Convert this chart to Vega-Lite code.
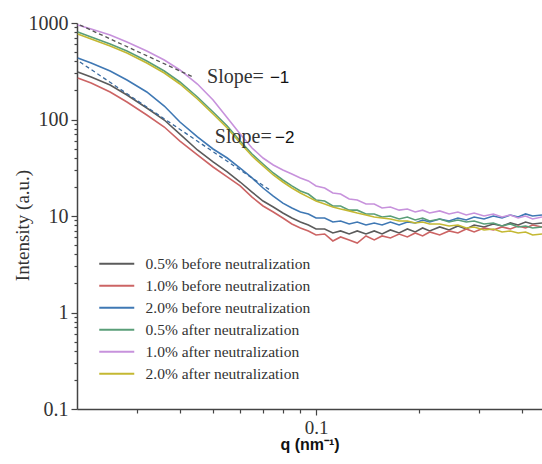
{
  "$schema": "https://vega.github.io/schema/vega-lite/v6.json",
  "width": 465,
  "height": 386,
  "autosize": {"type": "none"},
  "padding": {"left": 77, "top": 23, "right": 0, "bottom": 55},
  "background": "white",
  "config": {"view": {"stroke": null}},
  "datasets": {
    "curves": [
      {"q": 0.0201, "a1": 310.6, "a2": 269.2, "a3": 433.9, "a4": 806.6, "a5": 953, "a6": 769.1},
      {"q": 0.022, "a1": 275.6, "a2": 238.9, "a3": 384.9, "a4": 716, "a5": 867, "a6": 682.8},
      {"q": 0.025, "a1": 227.8, "a2": 192.8, "a3": 318.1, "a4": 605.9, "a5": 751, "a6": 577.6},
      {"q": 0.028, "a1": 179.4, "a2": 151.8, "a3": 256.6, "a4": 512.7, "a5": 636, "a6": 488.9},
      {"q": 0.032, "a1": 131.6, "a2": 111.3, "a3": 192.8, "a4": 403.8, "a5": 513, "a6": 384.9},
      {"q": 0.036, "a1": 98.8, "a2": 83.6, "a3": 138.0, "a4": 318.1, "a5": 414, "a6": 303.2},
      {"q": 0.04, "a1": 70.7, "a2": 59.8, "a3": 94.2, "a4": 244.7, "a5": 326, "a6": 233.3},
      {"q": 0.045, "a1": 48.3, "a2": 42.9, "a3": 65.9, "a4": 171.1, "a5": 233, "a6": 163.1},
      {"q": 0.05, "a1": 36.3, "a2": 32.2, "a3": 49.5, "a4": 119.6, "a5": 159, "a6": 114.0},
      {"q": 0.055, "a1": 28.6, "a2": 25.4, "a3": 39.9, "a4": 85.6, "a5": 104, "a6": 81.6},
      {"q": 0.06, "a1": 22.5, "a2": 20.5, "a3": 31.4, "a4": 59.8, "a5": 70.7, "a6": 57.1},
      {"q": 0.065, "a1": 17.7, "a2": 15.7, "a3": 24.8, "a4": 43.9, "a5": 50.7, "a6": 41.8},
      {"q": 0.07, "a1": 14.3, "a2": 12.7, "a3": 19.5, "a4": 34.6, "a5": 39.9, "a6": 33.0},
      {"q": 0.075, "a1": 12.4, "a2": 11.0, "a3": 16.1, "a4": 27.9, "a5": 33.8, "a6": 26.6},
      {"q": 0.08, "a1": 10.75, "a2": 9.54, "a3": 13.6, "a4": 23.6, "a5": 30.0, "a6": 22.5},
      {"q": 0.085, "a1": 9.54, "a2": 8.27, "a3": 12.1, "a4": 20.5, "a5": 27.2, "a6": 19.5},
      {"q": 0.09, "a1": 8.67, "a2": 7.52, "a3": 11.0, "a4": 18.2, "a5": 24.8, "a6": 17.3},
      {"q": 0.095, "a1": 8.07, "a2": 7.00, "a3": 10.5, "a4": 16.9, "a5": 23.1, "a6": 15.7},
      {"q": 0.1, "a1": 7.34, "a2": 6.36, "a3": 9.54, "a4": 14.65, "a5": 20.5, "a6": 14.3},
      {"q": 0.106, "a1": 7.34, "a2": 6.51, "a3": 9.54, "a4": 14.3, "a5": 19.5, "a6": 13.3},
      {"q": 0.112, "a1": 6.67, "a2": 5.51, "a3": 8.67, "a4": 12.7, "a5": 17.3, "a6": 12.4},
      {"q": 0.118, "a1": 7.00, "a2": 6.07, "a3": 8.88, "a4": 12.7, "a5": 16.9, "a6": 11.8},
      {"q": 0.125, "a1": 6.51, "a2": 5.65, "a3": 8.27, "a4": 11.5, "a5": 15.0, "a6": 11.3},
      {"q": 0.132, "a1": 7.00, "a2": 5.25, "a3": 8.67, "a4": 11.5, "a5": 14.65, "a6": 10.75},
      {"q": 0.14, "a1": 6.51, "a2": 6.21, "a3": 8.07, "a4": 10.5, "a5": 13.3, "a6": 10.25},
      {"q": 0.148, "a1": 7.00, "a2": 5.65, "a3": 8.47, "a4": 10.5, "a5": 13.3, "a6": 9.77},
      {"q": 0.156, "a1": 6.51, "a2": 6.21, "a3": 8.07, "a4": 9.77, "a5": 12.1, "a6": 9.54},
      {"q": 0.165, "a1": 7.17, "a2": 5.92, "a3": 8.67, "a4": 10.0, "a5": 12.4, "a6": 9.31},
      {"q": 0.175, "a1": 6.67, "a2": 6.51, "a3": 8.07, "a4": 9.31, "a5": 11.5, "a6": 8.88},
      {"q": 0.185, "a1": 7.34, "a2": 6.07, "a3": 8.67, "a4": 9.77, "a5": 11.8, "a6": 8.88},
      {"q": 0.195, "a1": 6.83, "a2": 6.67, "a3": 8.47, "a4": 9.09, "a5": 11.0, "a6": 8.47},
      {"q": 0.205, "a1": 7.52, "a2": 6.21, "a3": 9.09, "a4": 9.54, "a5": 11.5, "a6": 8.67},
      {"q": 0.215, "a1": 7.00, "a2": 6.83, "a3": 8.67, "a4": 8.88, "a5": 10.75, "a6": 8.27},
      {"q": 0.23, "a1": 7.70, "a2": 6.36, "a3": 9.31, "a4": 9.31, "a5": 11.3, "a6": 8.27},
      {"q": 0.245, "a1": 7.17, "a2": 7.00, "a3": 8.88, "a4": 8.67, "a5": 10.5, "a6": 7.88},
      {"q": 0.26, "a1": 7.88, "a2": 6.67, "a3": 9.54, "a4": 9.09, "a5": 11.0, "a6": 8.07},
      {"q": 0.275, "a1": 7.34, "a2": 7.34, "a3": 9.09, "a4": 8.67, "a5": 10.25, "a6": 7.52},
      {"q": 0.29, "a1": 8.07, "a2": 6.83, "a3": 9.77, "a4": 8.88, "a5": 10.75, "a6": 7.70},
      {"q": 0.31, "a1": 7.70, "a2": 7.52, "a3": 9.31, "a4": 8.27, "a5": 10.0, "a6": 7.17},
      {"q": 0.33, "a1": 8.27, "a2": 7.17, "a3": 10.0, "a4": 8.47, "a5": 10.5, "a6": 7.34},
      {"q": 0.35, "a1": 7.88, "a2": 7.70, "a3": 9.54, "a4": 7.88, "a5": 9.77, "a6": 6.83},
      {"q": 0.37, "a1": 8.47, "a2": 7.34, "a3": 10.25, "a4": 8.27, "a5": 10.25, "a6": 7.00},
      {"q": 0.39, "a1": 8.07, "a2": 7.88, "a3": 9.77, "a4": 7.70, "a5": 9.54, "a6": 6.67},
      {"q": 0.41, "a1": 8.67, "a2": 7.52, "a3": 10.5, "a4": 7.88, "a5": 10.0, "a6": 6.83},
      {"q": 0.43, "a1": 8.27, "a2": 8.07, "a3": 10.0, "a4": 7.52, "a5": 9.31, "a6": 6.36},
      {"q": 0.458, "a1": 8.47, "a2": 7.70, "a3": 10.25, "a4": 7.70, "a5": 9.77, "a6": 6.51}
    ],
    "names": [
      {"k": "a1", "name": "0.5% before neutralization"},
      {"k": "a2", "name": "1.0% before neutralization"},
      {"k": "a3", "name": "2.0% before neutralization"},
      {"k": "a4", "name": "0.5% after neutralization"},
      {"k": "a5", "name": "1.0% after neutralization"},
      {"k": "a6", "name": "2.0% after neutralization"}
    ],
    "guides": [
      {"g": "s1", "q": 0.0204, "I": 953},
      {"g": "s1", "q": 0.0437, "I": 275.6},
      {"g": "s2", "q": 0.0204, "I": 394.3},
      {"g": "s2", "q": 0.0733, "I": 18.6}
    ],
    "notes": [
      {"f": "serif", "q": 0.048, "I": 238.9, "t": "Slope="},
      {"f": "sans", "q": 0.0733, "I": 238.9, "t": "−1"},
      {"f": "serif", "q": 0.0506, "I": 57.1, "t": "Slope="},
      {"f": "sans", "q": 0.0759, "I": 57.1, "t": "−2"}
    ]
  },
  "encoding": {
    "x": {
      "field": "q", "type": "quantitative",
      "scale": {"type": "log", "domain": [0.02, 0.458]},
      "axis": {
        "values": [0.03, 0.04, 0.05, 0.06, 0.07, 0.08, 0.09, 0.1, 0.2, 0.3, 0.4],
        "labelExpr": "datum.value == 0.1 ? '0.1' : ''",
        "labelOverlap": false, "labelFlush": false,
        "grid": false, "domainColor": "#444", "domainWidth": 1.5,
        "tickColor": "#444", "tickWidth": 1.2,
        "tickSize": {"condition": {"test": "datum.value == 0.1", "value": 6}, "value": 4},
        "labelFont": "Liberation Serif", "labelFontSize": 19, "labelColor": "#333", "labelPadding": 3,
        "title": "q (nm⁻¹)", "titleFont": "Liberation Sans", "titleFontWeight": "bold",
        "titleFontSize": 16, "titleColor": "#111", "titleY": 27
      }
    },
    "y": {
      "field": "I", "type": "quantitative",
      "scale": {"type": "log", "domain": [0.1, 1000]},
      "axis": {
        "values": [0.1, 0.2, 0.3, 0.4, 0.5, 0.6, 0.7, 0.8, 0.9, 1, 2, 3, 4, 5, 6, 7, 8, 9, 10, 20, 30, 40, 50, 60, 70, 80, 90, 100, 200, 300, 400, 500, 600, 700, 800, 900, 1000],
        "format": "~g",
        "labelExpr": "indexof([0.1, 1, 10, 100, 1000], datum.value) >= 0 ? datum.label : ''",
        "labelOverlap": false, "labelFlush": false,
        "grid": false, "domainColor": "#444", "domainWidth": 1.5,
        "tickColor": "#444", "tickWidth": 1.2,
        "tickSize": {"condition": {"test": "indexof([0.1, 1, 10, 100, 1000], datum.value) >= 0", "value": 6}, "value": 3},
        "labelFont": "Liberation Serif", "labelFontSize": 20, "labelColor": "#333", "labelPadding": 3,
        "title": "Intensity (a.u.)", "titleFont": "Liberation Serif", "titleFontWeight": "normal",
        "titleFontSize": 19, "titleColor": "#333", "titleX": -45, "titleY": 202
      }
    }
  },
  "layer": [
    {
      "data": {"name": "curves"},
      "transform": [
        {"fold": ["a1", "a2", "a3", "a4", "a5", "a6"], "as": ["k", "I"]},
        {"lookup": "k", "from": {"data": {"name": "names"}, "key": "k", "fields": ["name"]}}
      ],
      "mark": {"type": "line", "strokeWidth": 1.6, "clip": true},
      "encoding": {
        "color": {
          "field": "name", "type": "nominal",
          "scale": {
            "domain": ["0.5% before neutralization", "1.0% before neutralization", "2.0% before neutralization", "0.5% after neutralization", "1.0% after neutralization", "2.0% after neutralization"],
            "range": ["#5b5b5b", "#cc6464", "#3f78b4", "#5a9e78", "#c792dc", "#c4b832"]
          },
          "legend": {
            "title": null, "orient": "none", "legendX": 32, "legendY": 233,
            "symbolType": "M-3.5,0H3.5", "symbolSize": 100, "symbolStrokeWidth": 1.8,
            "labelFont": "Liberation Serif", "labelFontSize": 15.5, "labelColor": "#333",
            "labelLimit": 320, "rowPadding": 5, "labelOffset": 21, "padding": 0
          }
        }
      }
    },
    {
      "data": {"name": "guides"},
      "transform": [{"filter": "datum.g == 's1'"}],
      "mark": {"type": "line", "color": "#555", "strokeDash": [4, 3], "strokeWidth": 1.3}
    },
    {
      "data": {"name": "guides"},
      "transform": [{"filter": "datum.g == 's2'"}],
      "mark": {"type": "line", "color": "#3a6a9e", "strokeDash": [4, 3], "strokeWidth": 1.3}
    },
    {
      "data": {"name": "notes"},
      "transform": [{"filter": "datum.f == 'serif'"}],
      "mark": {"type": "text", "align": "left", "baseline": "alphabetic", "font": "Liberation Serif", "fontSize": 20, "color": "#333"},
      "encoding": {"text": {"field": "t"}}
    },
    {
      "data": {"name": "notes"},
      "transform": [{"filter": "datum.f == 'sans'"}],
      "mark": {"type": "text", "align": "left", "baseline": "alphabetic", "font": "Liberation Sans", "fontSize": 17, "color": "#111"},
      "encoding": {"text": {"field": "t"}}
    }
  ]
}
